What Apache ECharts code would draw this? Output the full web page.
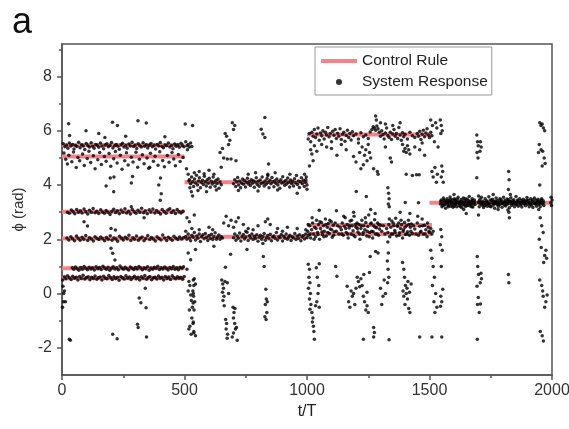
<!DOCTYPE html>
<html>
<head>
<meta charset="utf-8">
<script src="https://cdn.jsdelivr.net/npm/echarts@6/dist/echarts.min.js"></script>
<style>
  html, body { margin: 0; padding: 0; background: #fff; }
  #chart { width: 569px; height: 429px; }
</style>
</head>
<body>
<div id="chart"></div>
<script>
// control rule: one flat segment per level
const ruleStart = [0, 0, 0, 0, 0, 0, 500, 500, 1000, 1000, 1000, 1500];
const ruleEnd = [500, 500, 500, 500, 500, 500, 1005, 1005, 1510, 1510, 1510, 2000];
const ruleLevel = [5.48, 5.05, 3.02, 2.03, 0.93, 0.57, 4.1, 2.1, 5.86, 2.53, 2.2, 3.35];

// system response in [t/T, phi] pairs
const band0to500 = [
  [5,5.52],[12,5.41],[18,5.47],[24,5.36],[30,5.55],[36,5.44],[43,5.5],[49,5.33],[55,5.46],[61,5.42],[68,5.58],[74,5.38],[80,5.49],[87,5.44],[93,5.31],[99,5.53],[106,5.45],[112,5.4],[119,5.56],[125,5.43],[131,5.36],[138,5.5],[144,5.47],[150,5.39],[157,5.55],[163,5.44],[170,5.34],[176,5.48],[183,5.52],[189,5.41],[196,5.46],[202,5.57],[208,5.37],[215,5.45],[221,5.5],[228,5.43],[234,5.32],[241,5.49],[247,5.54],[253,5.4],[260,5.46],[266,5.36],[273,5.51],[279,5.44],[286,5.58],[292,5.42],[298,5.47],[305,5.35],[311,5.52],[318,5.45],[324,5.4],[331,5.56],[337,5.43],[344,5.49],[350,5.37],[356,5.46],[363,5.53],[369,5.41],[376,5.47],[382,5.33],[389,5.5],[395,5.44],[401,5.57],[408,5.42],[414,5.38],[421,5.48],[427,5.45],[434,5.55],[440,5.4],[447,5.46],[453,5.34],[460,5.51],[466,5.43],[473,5.49],[479,5.39],[486,5.54],[492,5.45],[498,5.41],
  [8,5.18],[15,4.95],[22,4.78],[28,5.1],[40,4.86],[47,5.22],[58,4.65],[65,5.02],[72,4.9],[84,5.15],[91,4.72],[103,4.98],[110,5.25],[117,4.83],[128,5.08],[135,4.6],[146,4.93],[154,5.2],[161,4.76],[173,5.05],[180,4.88],[192,5.16],[199,4.69],[211,4.97],[218,5.24],[225,4.81],[238,5.1],[245,4.58],[256,4.9],[263,5.19],[270,4.74],[283,5.03],[290,4.85],[302,5.21],[309,4.66],[316,4.95],[328,5.12],[335,4.79],[347,5.0],[354,4.62],[361,5.17],[373,4.88],[380,5.06],[392,4.73],[399,5.23],[411,4.91],[418,4.68],[430,5.09],[437,4.84],[449,5.2],[456,4.96],[463,4.71],[475,5.13],[482,4.87],[494,5.02],
  [22,3.0],[30,2.96],[38,3.08],[45,3.03],[52,2.94],[60,3.1],[67,3.0],[75,3.05],[82,2.97],[90,3.12],[97,3.02],[105,2.93],[112,3.07],[120,3.0],[127,3.14],[135,2.98],[142,3.04],[150,2.95],[158,3.09],[165,3.01],[173,2.96],[180,3.06],[188,3.0],[196,2.92],[203,3.03],[211,3.11],[219,2.99],[226,3.05],[234,2.94],[241,3.08],[249,3.0],[257,3.13],[264,2.97],[272,3.04],[279,2.93],[287,3.1],[295,3.02],[302,2.96],[310,3.07],[318,3.0],[325,3.15],[333,2.98],[340,3.05],[348,2.94],[356,3.09],[363,3.01],[371,3.12],[379,2.97],[386,3.06],[394,3.0],[402,2.93],[409,3.1],[417,3.03],[425,2.96],[432,3.08],[440,3.13],[447,2.99],[455,3.05],[463,2.95],[470,3.1],[478,3.02],[486,2.97],[494,3.04],
  [20,2.05],[28,1.98],[36,2.1],[43,2.02],[51,1.95],[59,2.12],[66,2.04],[74,1.97],[82,2.08],[89,2.0],[97,2.14],[105,1.96],[112,2.06],[120,2.01],[128,1.94],[135,2.1],[143,2.03],[151,1.99],[158,2.09],[166,2.02],[174,1.95],[181,2.07],[189,2.0],[197,2.13],[204,1.97],[212,2.05],[220,2.01],[227,1.93],[235,2.11],[243,2.04],[250,1.98],[258,2.08],[266,2.02],[273,2.15],[281,1.96],[289,2.06],[296,2.0],[304,2.12],[312,1.97],[319,2.04],[327,2.09],[335,1.95],[342,2.03],[350,2.14],[358,1.99],[365,2.07],[373,2.01],[381,1.94],[388,2.1],[396,2.03],[404,1.98],[411,2.16],[419,2.05],[427,1.96],[434,2.08],[442,2.02],[450,1.97],[457,2.11],[465,2.04],[473,1.99],[480,2.09],[488,2.01],[496,2.06],
  [42,0.95],[48,0.9],[55,0.98],[62,0.92],[69,0.86],[76,0.96],[83,0.9],[90,1.0],[97,0.93],[104,0.88],[111,0.97],[118,0.91],[125,0.95],[132,0.87],[139,0.99],[146,0.92],[153,0.96],[160,0.89],[167,1.01],[174,0.94],[181,0.9],[188,0.97],[195,0.86],[202,0.93],[209,0.99],[216,0.91],[223,0.95],[230,0.88],[237,1.02],[244,0.94],[251,0.9],[258,0.97],[265,0.92],[272,0.87],[279,0.98],[286,0.93],[293,0.89],[300,0.96],[307,0.91],[314,1.0],[321,0.94],[328,0.88],[335,0.95],[342,0.92],[349,0.99],[356,0.86],[363,0.94],[370,0.9],[377,0.97],[384,0.93],[391,1.01],[398,0.89],[405,0.95],[412,0.91],[419,0.98],[426,0.93],[433,0.87],[440,0.96],[447,0.92],[454,1.0],[461,0.9],[468,0.95],[475,0.88],[482,0.97],[489,0.93],[496,0.99],
  [3,0.5],[10,0.62],[16,0.55],[23,0.66],[30,0.58],[37,0.52],[44,0.64],[51,0.57],[58,0.6],[65,0.5],[72,0.63],[79,0.56],[86,0.68],[93,0.54],[100,0.59],[107,0.62],[114,0.51],[121,0.6],[128,0.56],[135,0.65],[142,0.53],[149,0.58],[156,0.61],[163,0.5],[170,0.64],[177,0.57],[184,0.55],[191,0.67],[198,0.59],[205,0.52],[212,0.62],[219,0.56],[226,0.6],[233,0.49],[240,0.63],[247,0.58],[254,0.54],[261,0.66],[268,0.57],[275,0.61],[282,0.52],[289,0.59],[296,0.64],[303,0.55],[310,0.6],[317,0.5],[324,0.62],[331,0.57],[338,0.67],[345,0.53],[352,0.59],[359,0.63],[366,0.51],[373,0.58],[380,0.6],[387,0.54],[394,0.65],[401,0.57],[408,0.6],[415,0.5],[422,0.63],[429,0.56],[436,0.61],[443,0.52],[450,0.66],[457,0.58],[464,0.55],[471,0.62],[478,0.57],[485,0.6],[492,0.53],[499,0.63]
];
const scatter0to500 = [
  [27,6.26],[98,6.0],[206,6.32],[226,6.2],[310,6.37],[344,6.29],[31,5.83],[175,5.75],[260,5.8],[420,5.78],[150,5.9],
  [197,4.26],[212,4.3],[288,4.32],[211,3.75],[283,4.08],[402,4.26],[358,4.66],[401,3.44],[405,3.68],[180,3.97],[395,4.0],
  [90,2.65],[104,2.49],[200,2.4],[218,2.34],[283,3.2],[335,2.8],[200,1.67],[207,1.49],[216,1.24],
  [4,0.27],[7,0.0],[10,0.1],[6,-0.3],[2,-0.5],[14,-0.3],[30,-1.68],[34,-1.72],[207,-1.5],[225,-1.66],[345,-1.6],
  [308,-1.13],[311,-1.25],[315,-0.16],[322,-0.34],[340,0.2],[343,-0.52]
];
const resp500to1000 = [
  [503,6.25],[533,6.2],[505,5.6],[510,5.45],[515,5.5],[520,5.4],[512,5.3],[525,5.55],[530,5.42],[508,4.6],[515,4.4],[518,4.15],[522,3.9],[528,3.75],[533,3.6],[510,2.8],[520,2.65],[540,2.9],[505,2.3],[515,1.5],[525,1.25],[510,0.9],[518,0.45],[522,0.3],[515,0.1],[525,-0.05],[528,-0.25],[520,-0.6],[532,-0.5],[530,-0.9],[522,-1.2],[535,-1.1],[518,-1.3],[527,-1.5],[538,-1.45],[545,0.35],[540,0.55],[536,0.0],[542,-0.3],
  [520,4.2],[525,4.05],[529,4.3],[533,4.12],[537,3.95],[541,4.22],[545,4.08],[549,4.36],[553,4.0],[557,4.15],[561,4.27],[565,3.9],[569,4.1],[573,4.18],[577,4.02],[581,4.33],[585,4.12],[589,3.97],[593,4.2],[597,4.07],[601,4.25],[605,3.92],[609,4.14],[613,4.04],[617,4.3],[621,4.1],[625,3.96],[629,4.18],[633,4.06],[637,4.22],[641,3.88],[645,4.11],[650,4.01],
  [540,4.45],[560,4.5],[580,4.42],[600,4.55],[620,4.4],[555,3.8],[590,3.75],[630,3.82],
  [700,4.05],[705,4.2],[709,3.95],[713,4.12],[717,4.28],[721,4.0],[725,4.15],[729,3.9],[733,4.08],[737,4.22],[741,4.03],[745,4.17],[749,3.93],[753,4.1],[757,4.25],[761,4.04],[765,4.13],[769,3.98],[773,4.2],[777,4.07],[781,4.16],[785,3.92],[789,4.11],[793,4.27],[797,4.02],[801,4.14],[805,3.96],[809,4.19],[813,4.06],[817,4.3],[821,4.09],[825,3.97],[829,4.15],[833,4.03],[837,4.24],[841,4.1],[845,3.9],[849,4.18],[853,4.05],[857,4.28],[861,4.12],[865,3.94],[869,4.16],[873,4.07],[877,4.22],[881,4.0],[885,4.13],[889,3.88],[893,4.2],[897,4.08],[901,4.31],[905,4.11],[909,3.99],[913,4.17],[917,4.04],[921,4.26],[925,4.1],[929,3.93],[933,4.19],[937,4.06],[941,4.14],[945,3.97],[949,4.23],[953,4.09],[957,4.35],[961,4.02],[965,4.15],[969,3.91],[973,4.12],[977,4.27],[981,4.05],[985,4.18],[989,3.95],[993,4.1],[997,4.3],[1000,4.0],
  [760,4.4],[790,4.45],[840,4.4],[870,4.45],[930,4.4],[990,4.4],[720,3.8],[800,3.78],[880,3.82],[960,3.7],[1000,3.85],[995,4.2],
  [666,5.9],[672,5.8],[680,5.5],[695,6.3],[705,6.2],[700,6.05],[660,5.0],[675,4.96],[690,4.96],[650,4.66],[645,5.2],[655,5.35],[685,5.65],[710,4.9],[813,6.06],[820,5.88],[828,5.75],[828,6.49],[843,4.78],[840,4.35],
  [505,2.1],[510,2.0],[515,2.2],[520,2.05],[525,1.95],[530,2.15],[535,2.08],[540,2.25],[545,1.98],[550,2.12],[555,2.04],[560,2.2],[565,1.92],[570,2.1],[575,2.17],[580,2.02],[585,2.22],[590,2.07],[595,1.96],[600,2.14],[605,2.03],[610,2.19],[615,1.99],[620,2.1],[625,2.24],[630,2.0],[635,2.08],[640,2.16],[645,2.0],[650,2.1],[655,2.05],
  [700,2.06],[705,2.2],[710,1.97],[715,2.12],[720,2.04],[725,2.23],[730,1.94],[735,2.1],[740,2.18],[745,2.01],[750,2.09],[755,2.26],[760,1.96],[765,2.13],[770,2.05],[775,2.2],[780,1.99],[785,2.11],[790,2.03],[795,2.17],[800,1.93],[805,2.08],[810,2.15],[815,2.0],[820,2.1],[825,2.22],[830,1.97],[835,2.06],[840,2.14],[845,2.02],[850,2.19],[855,1.95],[860,2.09],[865,2.12],[870,2.03],[875,2.25],[880,1.98],[885,2.1],[890,2.06],[895,2.18],[900,1.94],[905,2.11],[910,2.04],[915,2.2],[920,2.0],[925,2.08],[930,2.15],[935,1.96],[940,2.1],[945,2.05],[950,2.22],[955,1.99],[960,2.12],[965,2.03],[970,2.17],[975,1.95],[980,2.09],[985,2.14],[990,2.01],[995,2.2],[1000,2.06],
  [530,2.4],[560,2.35],[600,2.45],[615,2.35],[660,2.6],[670,2.85],[680,2.5],[690,2.7],[700,2.45],[710,2.65],[720,2.8],[740,2.55],[760,2.4],[780,2.35],[800,2.5],[830,2.65],[840,2.75],[850,2.55],[880,2.4],[920,2.45],[960,2.4],[995,2.35],[750,2.3],[900,2.3],
  [545,1.63],[688,1.45],[755,1.63],[667,0.97],[620,1.75],[820,1.85],
  [536,0.5],[538,0.3],[534,0.1],[537,-0.1],[535,-0.35],[539,-0.6],[536,-1.05],[538,-1.4],[545,-1.55],
  [652,0.5],[656,0.35],[659,0.2],[655,0.05],[661,-0.1],[657,-0.25],[662,-0.45],[668,-0.95],[672,-1.1],[670,-1.3],[676,-1.5],[674,-1.65],[665,0.45],[675,0.4],[680,0.0],
  [698,-0.5],[702,-0.7],[700,-0.9],[705,-1.1],[708,-1.3],[712,-1.25],[706,-0.55],[695,-1.6],[715,-1.72],[700,-1.45],
  [822,1.37],[825,1.0],[832,0.16],[834,-0.2],[830,-0.4],[836,-0.7],[833,-0.95],[828,-0.85],[838,-0.3]
];
const resp1000to1500 = [
  [1005,5.7],[1010,5.9],[1015,5.6],[1020,5.95],[1025,5.8],[1030,6.05],[1035,5.75],[1040,5.88],[1045,6.1],[1050,5.65],[1055,5.92],[1060,5.82],[1065,6.0],[1070,5.7],[1075,5.95],[1080,5.85],[1085,6.12],[1090,5.78],[1095,5.9],[1100,5.6],[1105,5.98],[1110,5.84],[1115,6.05],[1120,5.72],[1125,5.91],[1130,5.8],[1135,6.08],[1140,5.68],[1145,5.87],[1150,5.95],[1155,5.62],[1160,5.83],[1165,6.02],[1170,5.75],[1175,5.9],[1180,5.66],[1185,5.97],[1190,5.82],[1200,5.88],[1210,5.7],[1220,5.93],[1230,5.78],[1240,5.85],[1250,5.72],[1258,5.96],[1265,6.05],[1270,6.15],[1275,6.1],[1280,6.02],[1285,6.18],[1290,6.08],[1295,5.95],[1300,5.8],[1305,6.0],[1310,5.86],[1315,5.7],[1320,5.92],[1325,6.1],[1330,5.83],[1335,5.75],[1340,5.95],[1345,5.68],[1350,5.88],[1355,6.05],[1360,5.8],[1365,5.9],[1370,5.72],[1375,6.12],[1380,5.85],[1385,5.65],[1390,5.93],[1395,5.78],[1400,5.87],[1410,5.7],[1420,5.95],[1430,5.82],[1440,5.75],[1450,5.9],[1455,5.8],[1460,5.98],[1465,5.68],[1470,5.87],[1475,6.02],[1480,5.78],[1485,5.92],[1490,6.08],[1495,5.85],[1500,5.75],[1505,5.95],[1510,5.82],
  [1015,5.3],[1020,5.15],[1025,4.9],[1010,4.7],[1030,5.45],[1040,5.25],[1060,5.5],[1080,5.4],[1100,5.35],[1122,5.1],[1140,5.5],[1160,5.3],[1190,5.05],[1200,4.85],[1210,5.55],[1215,5.2],[1220,4.6],[1225,5.4],[1230,4.75],[1235,5.1],[1240,5.3],[1245,4.9],[1250,5.5],[1255,5.2],[1260,5.0],[1280,6.55],[1283,6.4],[1300,6.3],[1320,6.25],[1350,6.2],[1380,6.3],[1272,4.6],[1287,4.5],[1290,4.4],[1320,5.4],[1345,4.85],[1340,5.0],[1390,5.5],[1395,5.25],[1400,5.35],[1405,5.2],[1410,5.45],[1415,5.3],[1420,5.15],[1405,4.4],[1430,4.35],[1440,5.4],[1460,5.3],[1470,5.55],[1480,5.1],
  [1003,2.3],[1007,2.15],[1011,2.5],[1015,2.05],[1019,2.35],[1023,2.6],[1027,2.2],[1031,2.45],[1035,2.1],[1039,2.7],[1043,2.25],[1047,2.55],[1051,2.0],[1055,2.4],[1059,2.62],[1063,2.18],[1067,2.5],[1071,2.3],[1075,2.75],[1079,2.12],[1083,2.45],[1087,2.58],[1091,2.22],[1095,2.38],[1099,2.65],[1103,2.08],[1107,2.52],[1111,2.28],[1140,2.35],[1144,2.6],[1148,2.15],[1152,2.48],[1156,2.8],[1160,2.25],[1164,2.55],[1168,2.05],[1172,2.42],[1176,2.68],[1180,2.2],[1184,2.5],[1188,2.32],[1192,2.85],[1196,2.1],[1200,2.45],[1204,2.6],[1208,2.27],[1212,2.55],[1216,2.0],[1220,2.4],[1224,2.7],[1228,2.18],[1232,2.5],[1236,2.35],[1240,2.62],[1244,2.12],[1248,2.47],[1252,2.9],[1256,2.25],[1260,2.57],[1264,2.3],[1268,2.05],[1272,2.5],[1276,2.72],[1280,2.2],[1284,2.43],[1288,2.6],[1292,2.15],[1296,2.38],[1300,2.52],[1330,2.25],[1334,2.55],[1338,2.1],[1342,2.45],[1346,2.68],[1350,2.2],[1354,2.5],[1358,2.33],[1362,2.78],[1366,2.12],[1370,2.48],[1374,2.6],[1378,2.24],[1382,2.4],[1386,2.55],[1390,2.05],[1394,2.35],[1398,2.62],[1402,2.18],[1406,2.5],[1410,2.28],[1414,2.7],[1418,2.15],[1422,2.45],[1426,2.57],[1430,2.22],[1440,2.38],[1450,2.6],[1455,2.15],[1460,2.48],[1465,2.3],[1470,2.75],[1475,2.2],[1480,2.52],[1485,2.35],[1490,2.1],[1495,2.45],[1500,2.25],[1505,2.4],[1510,2.2],[1515,2.3],
  [1005,2.55],[1013,2.2],[1021,2.8],[1029,2.0],[1037,2.4],[1045,2.18],[1053,2.65],[1061,2.28],[1069,2.1],[1077,2.55],[1085,2.25],[1093,2.7],[1101,2.35],[1109,2.15],[1115,2.6],[1120,2.3],[1125,2.5],[1130,2.2],[1135,2.45],[1142,2.2],[1150,2.85],[1158,2.4],[1166,2.2],[1174,2.5],[1182,2.7],[1190,2.15],[1198,2.55],[1206,2.4],[1214,2.2],[1222,2.5],[1230,2.25],[1238,2.8],[1246,2.3],[1254,2.1],[1262,2.6],[1270,2.28],[1278,2.45],[1286,2.2],[1294,2.55],[1305,2.3],[1312,2.5],[1318,2.2],[1325,2.4],[1336,2.75],[1344,2.2],[1352,2.6],[1360,2.25],[1368,2.5],[1376,2.15],[1384,2.7],[1392,2.3],[1400,2.45],[1408,2.2],[1416,2.55],[1424,2.3],[1435,2.5],[1445,2.2],[1452,2.85],[1462,2.25],[1472,2.5],[1482,2.2],[1492,2.6],[1498,2.3],
  [1050,3.07],[1201,3.76],[1242,3.58],[1278,2.95],[1330,3.9],[1333,3.7],[1335,3.5],[1332,3.3],[1336,3.2],[1401,3.36],[1455,3.35],[1447,4.38],[1458,4.38],[1190,3.0],[1120,3.05],[1260,3.1],[1380,3.0],[1420,2.95],
  [1005,1.08],[1010,0.9],[1008,0.6],[1012,0.4],[1006,0.2],[1014,0.0],[1010,-0.2],[1016,-0.4],[1012,-0.58],[1020,-0.7],[1024,-0.9],[1022,-1.05],[1026,-1.2],[1028,-1.4],[1030,-1.68],[1035,-0.45],[1040,-0.3],[1045,0.0],[1050,-0.5],[1048,0.3],[1042,0.6],[1038,0.95],[1050,1.1],
  [1117,1.0],[1122,0.64],[1164,0.27],[1170,-0.3],[1175,-0.5],[1180,0.1],[1185,-0.1],[1190,0.0],[1195,-0.4],[1200,0.2],[1205,0.6],[1210,0.45],[1215,0.25],[1220,0.55],[1225,0.3],[1230,-0.1],[1235,-0.3],[1240,-0.6],[1245,-0.45],[1250,-0.7],[1255,0.78],[1258,1.37],[1232,0.7],[1245,0.05],[1272,-1.25],[1275,-1.43],[1230,-1.68],[1272,-1.6],[1335,-1.7],[1280,1.55],[1290,1.5],
  [1330,1.9],[1332,1.5],[1328,1.2],[1331,0.9],[1334,0.6],[1329,0.4],[1300,0.2],[1310,-0.1],[1305,-0.4],[1315,0.5],[1320,0.0],
  [1390,1.15],[1395,0.9],[1398,0.6],[1402,0.3],[1392,0.1],[1405,0.0],[1410,-0.2],[1400,-0.4],[1415,-0.55],[1420,-0.7],[1408,0.2],[1412,0.45],[1418,0.05],[1395,-0.1],[1425,0.35],[1460,-1.6]
];
const resp1500to2000 = [
  [1505,6.4],[1512,6.2],[1525,6.3],[1530,6.1],[1520,5.6],[1535,5.4],[1510,4.5],[1515,4.3],[1522,4.65],[1528,4.1],[1532,4.4],
  [1505,1.6],[1510,1.3],[1515,1.0],[1520,0.6],[1512,0.3],[1525,0.0],[1518,-0.3],[1522,-0.7],[1530,-0.5],[1510,-1.6],[1550,-1.6],
  [1544,6.4],[1548,6.2],[1552,6.0],[1546,5.9],[1550,4.7],[1554,4.5],[1548,4.3],[1556,4.1],[1546,2.36],[1550,2.1],[1544,1.8],[1552,1.6],[1548,1.0],[1554,0.16],[1546,-0.1],[1550,-0.3],[1545,-0.47],
  [1545,3.3],[1548,3.45],[1551,3.2],[1554,3.38],[1557,3.52],[1560,3.27],[1563,3.4],[1566,3.15],[1569,3.35],[1572,3.5],[1575,3.25],[1578,3.42],[1581,3.31],[1584,3.56],[1587,3.22],[1590,3.37],[1593,3.46],[1596,3.18],[1599,3.33],[1602,3.5],[1605,3.28],[1608,3.41],[1611,3.2],[1614,3.36],[1617,3.55],[1620,3.24],[1623,3.39],[1626,3.3],[1629,3.47],[1632,3.16],[1635,3.34],[1638,3.52],[1641,3.27],[1644,3.43],[1647,3.21],[1650,3.38],[1653,3.49],[1656,3.26],[1659,3.35],[1662,3.58],[1665,3.23],[1668,3.4],[1671,3.31],[1674,3.5],[1677,3.19],[1680,3.36],[1683,3.45],[1686,3.28],
  [1546,3.4],[1550,3.33],[1555,3.25],[1559,3.45],[1564,3.3],[1568,3.42],[1573,3.34],[1577,3.2],[1582,3.4],[1586,3.47],[1591,3.28],[1595,3.36],[1600,3.22],[1604,3.44],[1609,3.32],[1613,3.48],[1618,3.38],[1622,3.3],[1627,3.2],[1631,3.4],[1636,3.28],[1640,3.36],[1645,3.5],[1649,3.3],[1654,3.25],[1658,3.44],[1663,3.38],[1667,3.3],[1672,3.2],[1676,3.42],[1681,3.3],[1685,3.38],
  [1700,3.35],[1703,3.2],[1706,3.48],[1709,3.3],[1712,3.55],[1715,3.26],[1718,3.4],[1721,3.17],[1724,3.36],[1727,3.5],[1730,3.29],[1733,3.42],[1736,3.22],[1739,3.38],[1742,3.57],[1745,3.3],[1748,3.45],[1751,3.2],[1754,3.35],[1757,3.48],[1760,3.26],[1763,3.4],[1766,3.15],[1769,3.33],[1772,3.52],[1775,3.28],[1778,3.43],[1781,3.21],[1784,3.37],[1787,3.5],[1790,3.3],[1793,3.41],[1796,3.18],[1799,3.35],[1802,3.55],[1805,3.27],[1808,3.44],[1811,3.23],[1814,3.38],[1817,3.49],[1820,3.3],[1823,3.4],[1826,3.16],[1829,3.34],[1832,3.53],[1835,3.25],[1838,3.42],[1841,3.3],[1844,3.46],[1847,3.2],[1850,3.37],[1853,3.58],[1856,3.28],[1859,3.4],[1862,3.22],[1865,3.35],[1868,3.5],[1871,3.27],[1874,3.43],[1877,3.19],[1880,3.36],[1883,3.48],[1886,3.3],[1889,3.41],[1892,3.24],[1895,3.38],[1898,3.54],[1901,3.29],[1904,3.44],[1907,3.2],[1910,3.35],[1913,3.5],[1916,3.26],[1919,3.4],[1922,3.17],[1925,3.33],[1928,3.52],[1931,3.3],[1934,3.45],[1937,3.22],[1940,3.37],[1943,3.48],[1946,3.28],[1949,3.4],[1952,3.2],[1955,3.36],[1958,3.5],[1961,3.3],[1964,3.42],[1967,3.25],
  [1702,3.4],[1710,3.38],[1717,3.3],[1725,3.25],[1732,3.36],[1740,3.3],[1747,3.22],[1755,3.42],[1762,3.32],[1770,3.4],[1777,3.35],[1785,3.28],[1792,3.46],[1800,3.32],[1807,3.38],[1815,3.3],[1822,3.46],[1830,3.4],[1837,3.32],[1845,3.38],[1852,3.3],[1860,3.45],[1867,3.36],[1875,3.3],[1882,3.4],[1890,3.33],[1897,3.44],[1905,3.36],[1912,3.3],[1920,3.45],[1927,3.38],[1935,3.32],[1942,3.4],[1950,3.33],[1957,3.45],[1965,3.36],
  [1700,3.6],[1760,3.65],[1830,3.65],[1600,3.65],[1640,3.1],[1780,3.1],[1820,3.08],[1650,2.95],[1700,2.9],[1995,3.35],[2000,3.45],[1998,3.25],[1996,3.55],
  [1693,5.85],[1696,5.6],[1699,5.45],[1694,5.2],[1698,5.0],[1708,5.6],[1711,5.4],[1706,5.25],[1693,4.27],[1695,1.37],[1697,1.0],[1700,0.7],[1694,0.27],[1699,-0.14],[1696,-0.4],[1703,-0.7],[1710,0.75],[1707,0.4],[1712,0.55],[1708,-0.38],[1695,-1.68],
  [1823,4.5],[1825,4.2],[1822,3.84],[1824,3.0],[1826,2.8],[1822,0.7],[1824,0.4],
  [1950,6.3],[1955,6.2],[1960,6.25],[1965,6.1],[1970,6.0],[1948,5.5],[1955,5.3],[1962,5.25],[1968,5.0],[1972,4.8],[1960,4.7],[1945,5.2],[1950,4.0],[1946,3.1],[1952,2.8],[1958,2.5],[1964,2.25],[1948,2.0],[1956,1.7],[1970,1.4],[1966,1.15],[1975,1.6],[1978,1.3],[1950,0.5],[1958,0.3],[1964,-0.1],[1970,-0.5],[1962,0.1],[1975,-0.3],[1980,-0.05],[1952,-1.4],[1960,-1.55],[1965,-1.75]
];

const yMajor = [-2, 0, 2, 4, 6, 8];
const yMinor = [-1, 1, 3, 5, 7, 9];

const ruleData = [];
ruleLevel.forEach((lv, i) => {
  ruleData.push([ruleStart[i], lv], [ruleEnd[i], lv], [ruleEnd[i], '-']);
});
const responseData = [].concat(band0to500, scatter0to500, resp500to1000, resp1000to1500, resp1500to2000);

const font = "'Liberation Sans', Arial, sans-serif";
const axisColor = '#555';
const ruleColor = '#f2838b';

const chart = echarts.init(document.getElementById('chart'));
chart.setOption({
  animation: false,
  backgroundColor: '#fff',
  title: {
    text: 'a', left: 7, top: 0,
    textStyle: { fontSize: 36, fontWeight: 'normal', color: '#111', fontFamily: font }
  },
  grid: {
    left: 62, right: 17, top: 44, bottom: 54,
    outerBoundsMode: 'none',
    show: true, borderColor: axisColor, borderWidth: 1.5
  },
  legend: {
    orient: 'vertical', left: 315, top: 47,
    itemWidth: 36, itemHeight: 6, itemGap: 5,
    padding: [6, 4, 5, 6],
    borderColor: '#999', borderWidth: 1,
    textStyle: { fontSize: 15.5, color: '#222', fontFamily: font },
    data: [
      // 4px bar inside a 6px-high box, so the dot can stay 6px
      { name: 'Control Rule', icon: 'path://M0,0L0,0M0,1L36,1L36,5L0,5ZM0,6L0,6', itemStyle: { color: ruleColor } },
      { name: 'System Response', icon: 'circle' }
    ]
  },
  xAxis: {
    type: 'value', min: 0, max: 2000, interval: 500,
    name: 't/T', nameLocation: 'middle', nameGap: 29,
    nameTextStyle: { fontSize: 16, color: '#222', fontFamily: font },
    axisLine: { onZero: false, lineStyle: { color: axisColor, width: 1.5 } },
    axisTick: { length: 5, lineStyle: { color: axisColor, width: 1.5 } },
    minorTick: { show: true, splitNumber: 2, length: 3, lineStyle: { color: axisColor, width: 1.5 } },
    axisLabel: { fontSize: 16, color: '#333', margin: 8, fontFamily: font, formatter: v => String(v) },
    splitLine: { show: false }
  },
  yAxis: [{
    type: 'value', min: -3, max: 9.2,
    name: 'ϕ (rad)', nameLocation: 'middle', nameGap: 36,
    nameTextStyle: { fontSize: 15, color: '#333', fontFamily: font },
    axisLine: { show: true, onZero: false, lineStyle: { color: axisColor, width: 1.5 } },
    axisTick: { show: true, length: 5, customValues: yMajor, lineStyle: { color: axisColor, width: 1.5 } },
    axisLabel: { fontSize: 16, color: '#333', margin: 10, customValues: yMajor, fontFamily: font },
    splitLine: { show: false }
  }, {
    type: 'value', min: -3, max: 9.2, position: 'left',
    axisLine: { show: false, onZero: false },
    axisTick: { show: true, length: 3, customValues: yMinor, lineStyle: { color: axisColor, width: 1.5 } },
    axisLabel: { show: false },
    splitLine: { show: false }
  }],
  series: [{
    name: 'Control Rule', type: 'line', data: ruleData,
    symbol: 'none', connectNulls: false, silent: true, z: 1,
    lineStyle: { color: ruleColor, width: 4 },
    itemStyle: { color: ruleColor }
  }, {
    name: 'System Response', type: 'scatter', data: responseData,
    symbolSize: 3.5, silent: true, z: 2,
    itemStyle: { color: '#000' }
  }]
});
</script>
</body>
</html>
